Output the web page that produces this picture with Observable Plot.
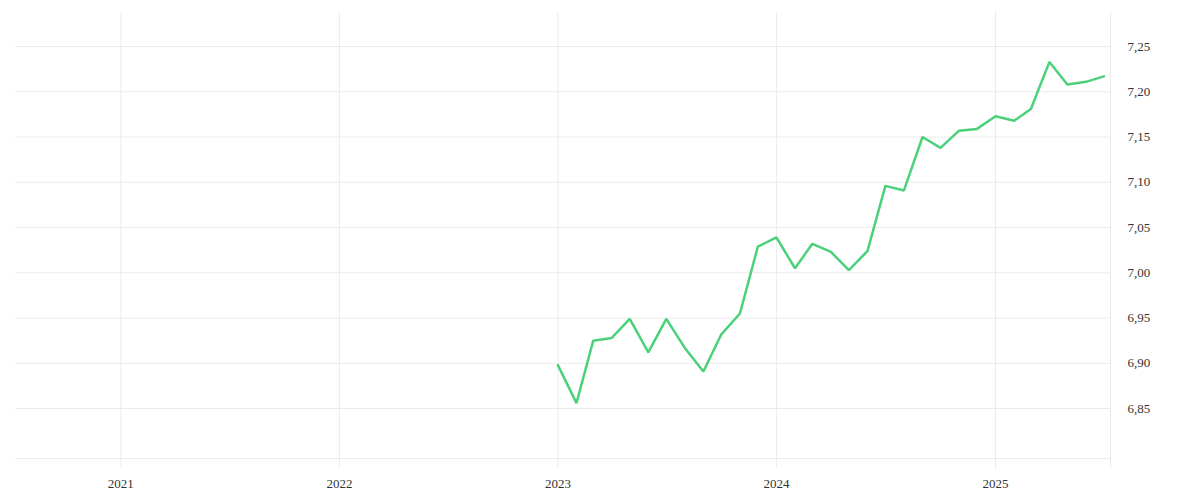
<!DOCTYPE html>
<html>
<head>
<meta charset="utf-8">
<script src="https://cdn.jsdelivr.net/npm/d3@7"></script>
<script src="https://cdn.jsdelivr.net/npm/@observablehq/plot@0.6"></script>
<style>
  html, body { margin: 0; padding: 0; background: #fff; }
  #chart svg { display: block; }
</style>
</head>
<body>
<div id="chart"></div>
<script>
// Monthly series, Jan 2023 – Jul 2025
const months = [
  "2023-01","2023-02","2023-03","2023-04","2023-05","2023-06","2023-07","2023-08","2023-09","2023-10","2023-11","2023-12",
  "2024-01","2024-02","2024-03","2024-04","2024-05","2024-06","2024-07","2024-08","2024-09","2024-10","2024-11","2024-12",
  "2025-01","2025-02","2025-03","2025-04","2025-05","2025-06","2025-07"
];
const values = [
  6.898, 6.856, 6.925, 6.928, 6.949, 6.912, 6.949, 6.917, 6.891, 6.932, 6.955, 7.029,
  7.039, 7.005, 7.032, 7.023, 7.003, 7.024, 7.096, 7.091, 7.150, 7.138, 7.157, 7.159,
  7.173, 7.168, 7.181, 7.233, 7.208, 7.211, 7.217
];
const yTicks = [6.85, 6.90, 6.95, 7.00, 7.05, 7.10, 7.15, 7.20, 7.25];
const yearTicks = ["2021-01-01","2022-01-01","2023-01-01","2024-01-01","2025-01-01"];
const xDomain = ["2020-07-09", "2025-07-12"];
const yDomain = [6.7948, 7.2876];

const parse = d3.utcParse("%Y-%m");
const parseDay = d3.utcParse("%Y-%m-%d");
const data = months.map((m, i) => ({date: parse(m), value: values[i]}));
const xd = xDomain.map(parseDay);
const xTickDates = yearTicks.map(parseDay).concat([xd[1]]);

const gridColor = "#ebebeb";
const fmtY = v => d3.format(".2f")(v).replace(".", ",");

const chart = Plot.plot({
  width: 1200,
  height: 500,
  marginTop: 12,
  marginBottom: 42,
  marginLeft: 15,
  marginRight: 90,
  style: {fontFamily: "'Liberation Serif', 'DejaVu Serif', serif", fontSize: "13px", color: "#333", background: "#fff"},
  x: {type: "utc", domain: xd, label: null},
  y: {domain: yDomain, label: null},
  marks: [
    Plot.gridY(yTicks, {stroke: gridColor, strokeOpacity: 1}),
    Plot.gridX(xTickDates, {stroke: gridColor, strokeOpacity: 1}),
    Plot.ruleY([yDomain[0]], {stroke: gridColor}),
    Plot.axisX(xTickDates, {
      tickSize: 10, stroke: gridColor, strokeOpacity: 1, tickPadding: 10, label: null,
      tickFormat: d => (+d === +xd[1] ? "" : d3.utcFormat("%Y")(d)),
      fill: "#333", fontSize: 13
    }),
    Plot.axisY(yTicks, {
      anchor: "right", tickSize: 0, tickPadding: 17, label: null,
      tickFormat: fmtY, fill: "#333", fontSize: 13
    }),
    Plot.lineY(data, {x: "date", y: "value", stroke: "#4cd17b", strokeWidth: 2.5, strokeLinejoin: "miter"})
  ]
});
document.getElementById("chart").appendChild(chart);
</script>
</body>
</html>
